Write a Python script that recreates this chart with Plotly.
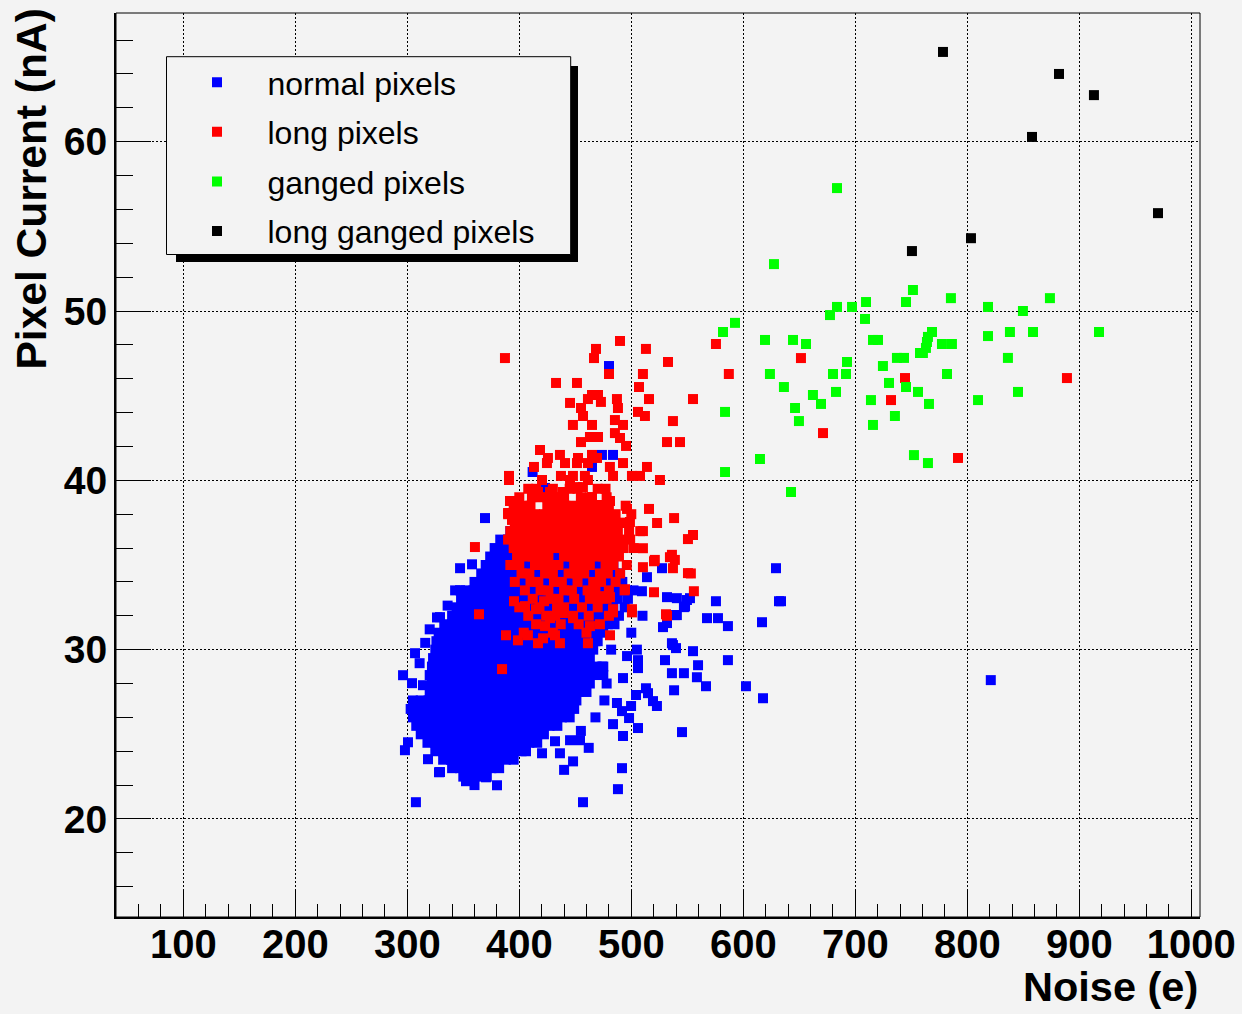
import plotly.graph_objects as go

# ---------------- data ----------------
black_x = [778.3, 881.9, 913.1, 857.8, 970.3, 750.6, 803.3]
black_y = [65.3, 64.0, 62.75, 60.28, 55.78, 53.54, 54.3]

green_x = [683.7, 627.4, 751.5, 785.4, 873.8, 745.3, 709.6, 683.7, 697.1, 818.5,
           849.7, 677.4, 708.7, 592.6, 581.9, 838.1, 858.7, 917.6, 768.5, 764.9,
           818.5, 619.4, 644.4, 715.8, 720.3, 764.0, 656.0, 777.4, 786.3, 763.1,
           757.8, 760.4, 737.2, 743.5, 836.3, 692.6, 724.7, 623.8, 680.1, 691.7,
           781.9, 636.3, 730.1, 745.3, 756.0, 662.2, 682.8, 845.3, 669.4, 646.2,
           714.0, 765.8, 809.6, 649.7, 735.4, 715.8, 583.7, 614.9, 752.4, 764.9,
           583.7, 642.6]
green_y = [57.26, 52.77, 51.24, 50.76, 50.76, 50.53, 50.53, 50.24, 50.24, 50.24,
           50.0, 49.76, 49.53, 49.3, 48.76, 48.76, 48.76, 48.76, 48.76, 48.47,
           48.52, 48.29, 48.29, 48.29, 48.29, 48.17, 48.05, 48.05, 48.05, 47.82,
           47.52, 47.52, 47.23, 47.23, 47.23, 46.99, 46.75, 46.28, 46.28, 46.28,
           46.28, 45.51, 45.75, 45.51, 45.22, 45.04, 45.22, 45.22, 44.51, 44.27,
           44.74, 44.51, 44.74, 43.5, 43.8, 43.27, 44.04, 41.26, 41.49, 41.02,
           40.49, 39.31]

# long pixels: scattered points
red_x = [387.2, 489.9, 468.5, 466.7, 513.1, 532.8, 480.1, 510.4, 506.9, 432.8,
         451.5, 464.9, 470.3, 461.3, 472.9, 487.2, 488.1, 515.8, 555.1, 445.3,
         455.1, 456.9, 506.0, 512.2, 485.4, 492.6, 464.9, 447.9, 537.2, 485.4,
         489.9, 463.1, 470.3, 455.1, 531.9, 543.5, 495.3, 418.5, 425.6, 436.3,
         440.8, 452.4, 451.5, 464.9, 469.4, 461.3, 424.7, 413.1, 480.9, 492.6,
         514.0, 483.7, 390.8, 390.8, 420.3, 437.2, 447.9, 458.6, 461.3, 445.3,
         500.6, 507.8, 525.6, 416.7, 411.3, 464.9, 481.0, 473.8, 391.7, 496.2,
         515.8, 390.0, 402.4, 409.5, 393.5, 402.4, 494.4, 523.0, 538.2, 510.4,
         555.1, 550.6, 360.4, 427.4, 433.6, 439.0, 451.5, 456.8, 471.2, 399.7,
         498.8, 395.3, 405.1, 414.9, 422.1, 433.7, 439.0, 448.0, 463.1, 472.1,
         481.0, 483.7, 500.6, 494.4, 520.3, 531.0, 364.0, 388.1, 398.8, 407.7,
         416.7, 421.2, 431.9, 436.3, 461.3, 481.0, 384.6, 423.0, 427.4, 510.4,
         534.5, 537.2, 520.3, 510.4, 550.6, 521.0, 536.3, 538.9, 553.2, 555.9,
         500.6, 483.7, 531.9, 575.6, 587.1, 651.5, 744.4, 731.9, 671.2, 791.7,
         889.0]
red_y = [47.22, 48.23, 47.76, 47.22, 47.76, 46.99, 46.28, 46.28, 45.51, 45.75,
         45.75, 45.04, 45.04, 44.8, 44.63, 44.8, 44.27, 44.8, 44.8, 44.57,
         44.27, 43.8, 44.04, 43.8, 43.56, 43.27, 43.27, 43.27, 43.5, 42.79,
         42.5, 42.56, 42.56, 42.26, 42.26, 42.26, 42.03, 41.79, 41.32, 41.5,
         41.02, 41.32, 41.02, 41.5, 41.32, 41.02, 41.02, 40.79, 40.79, 41.02,
         40.79, 40.26, 40.26, 40.02, 40.02, 40.26, 40.26, 40.26, 40.02, 40.02,
         40.26, 40.26, 40.02, 39.31, 39.01, 39.01, 38.78, 38.54, 38.78, 38.31,
         38.31, 38.07, 38.31, 38.31, 37.66, 37.48, 37.48, 37.48, 37.77, 37.0,
         36.77, 36.53, 36.06, 39.31, 39.01, 39.31, 39.6, 39.6, 38.54, 37.77,
         37.54, 32.86, 32.57, 32.39, 32.86, 32.45, 32.16, 31.86, 31.39, 33.16,
         33.1, 32.39, 32.39, 33.57, 33.39, 32.09, 32.09, 30.85, 30.55, 30.85,
         30.38, 30.67, 30.85, 30.38, 30.38, 30.85, 28.85, 31.39, 31.86, 35.99,
         35.46, 34.81, 35.22, 34.87, 34.52, 35.3, 35.6, 35.3, 34.5, 33.45,
         32.2, 32.2, 32.0, 48.05, 46.28, 47.22, 46.04, 44.74, 42.79, 41.32,
         46.04]

# long pixels: dense core, read row by row (current value of the row, noise values in it)
red_core_y = [39.5, 39.0, 38.5, 38.0, 37.5, 37.0, 36.5, 36.0, 35.5, 35.0,
              34.5, 34.0, 33.5, 33.0, 32.5, 32.0, 31.5, 31.0]
red_core_x = [
    [408, 415, 430, 445, 452, 470, 477],
    [400, 418, 425, 440, 455, 463, 478],
    [395, 403, 410, 425, 433, 441, 449, 456, 464, 472, 480, 495],
    [390, 398, 406, 414, 422, 430, 438, 446, 454, 462, 470, 478, 486, 500],
    [396, 404, 412, 420, 428, 436, 444, 452, 460, 468, 476, 484, 492],
    [392, 400, 408, 416, 424, 432, 440, 448, 456, 464, 472, 480, 488, 498, 508],
    [390, 398, 406, 414, 421, 428, 435, 442, 449, 456, 463, 470, 477, 484, 491, 499],
    [395, 402, 409, 416, 423, 430, 437, 444, 451, 458, 465, 472, 479, 486, 493, 502],
    [398, 405, 412, 419, 426, 440, 447, 454, 461, 468, 475, 482, 489],
    [392, 400, 414, 421, 428, 435, 449, 456, 463, 477, 484, 496],
    [402, 409, 423, 430, 444, 451, 458, 472, 479, 490],
    [396, 410, 417, 431, 438, 452, 466, 473, 486],
    [405, 419, 426, 440, 447, 461, 468, 480, 494],
    [412, 428, 435, 449, 463, 470, 478],
    [400, 418, 440, 456, 470],
    [408, 424, 432, 448, 462, 480],
    [415, 437, 453, 472],
    [404, 430, 460],
]

# normal pixels: scattered points around the cloud
blue_x = [480.1, 473.8, 483.7, 464.9, 411.9, 422.9, 369.4, 473.8, 347.1, 357.8,
          347.1, 306.9, 296.2, 304.2, 314.0, 305.1, 300.6, 297.9, 318.5, 328.3,
          352.4, 307.7, 491.7, 488.1, 456.9, 380.1, 370.3, 575.6, 567.6, 577.4,
          586.3, 616.7, 631.9, 536.3, 539.9, 555.1, 559.6, 586.3, 530.1, 536.3,
          547.0, 558.6, 566.7, 538.2, 602.4, 617.6, 513.1, 519.4, 522.9, 545.3,
          506.0, 492.6, 498.0, 499.8, 504.2, 506.0, 506.0, 496.2, 492.6, 487.2,
          491.7, 483.7, 454.2, 445.3, 436.3, 420.3, 431.9, 629.2, 633.7, 552.4,
          547.0, 539.0, 531.9, 528.3, 531.9, 527.4, 514.0, 509.5, 514.9, 821.0,
          549.7, 540.7, 540.7, 548.0, 537.2, 389.0, 382.7, 329.2, 342.7, 329.2,
          326.5, 474.0, 478.0, 470.0, 482.0, 476.0, 468.0, 500.0, 505.0, 510.0,
          502.0, 316.0, 311.0, 320.0, 336.0, 455.0, 462.0, 448.0, 440.0, 360.0]
blue_y = [46.75, 41.5, 41.5, 40.79, 40.49, 39.55, 37.77, 38.25, 34.81, 35.04,
          33.51, 29.79, 28.49, 28.02, 27.9, 26.72, 24.53, 24.06, 23.53, 22.76,
          22.23, 20.99, 23.0, 21.76, 20.99, 21.99, 22.46, 32.86, 31.86, 31.86,
          31.39, 31.62, 32.86, 30.38, 30.09, 29.91, 29.08, 29.38, 29.38, 28.61,
          28.61, 28.37, 27.84, 27.6, 27.84, 27.13, 27.72, 26.96, 26.67, 25.13,
          25.37, 24.9, 25.96, 26.67, 27.32, 29.38, 28.91, 29.62, 28.32, 26.85,
          26.37, 25.6, 24.65, 24.65, 23.88, 23.88, 24.59, 34.81, 32.86, 33.04,
          32.51, 32.04, 31.57, 31.33, 33.1, 34.81, 34.28, 33.45, 27.43, 28.2,
          32.93, 32.04, 33.04, 32.55, 30.27, 35.99, 35.7, 31.92, 33.5, 22.77,
          31.9, 29.0, 28.0, 30.5, 30.0, 27.0, 26.0, 31.0, 30.0, 32.0,
          33.5, 30.4, 29.2, 31.2, 32.6, 25.2, 24.2, 23.4, 22.9, 22.0]

# normal pixels: dense core, read row by row
blue_core_y = [37.0, 36.5, 36.0, 35.5, 35.0, 34.5, 34.0, 33.5, 33.0, 32.5,
               32.0, 31.5, 31.0, 30.5, 30.0, 29.5, 29.0, 28.5, 28.0, 27.5,
               27.0, 26.5, 26.0, 25.5, 25.0, 24.5, 24.0, 23.5, 23.0, 22.5]
blue_core_x = [
    [392, 399, 406, 413, 420, 428],
    [383, 390, 397, 404, 411, 418, 425, 432, 439, 446],
    [378, 385, 392, 399, 406, 413, 420, 427, 434, 441, 448, 455, 462, 465],
    [374, 381, 388, 395, 402, 409, 416, 423, 430, 437, 444, 451, 458, 465, 472, 480],
    [370, 377, 384, 391, 398, 405, 412, 419, 426, 433, 440, 447, 454, 461, 468, 475, 484],
    [366, 373, 380, 387, 394, 401, 408, 415, 422, 429, 436, 443, 450, 457, 464, 471, 478, 485, 490],
    [360, 367, 374, 381, 388, 395, 402, 409, 416, 423, 430, 437, 444, 451, 458, 465, 472, 479, 486, 492],
    [352, 359, 366, 373, 380, 387, 394, 401, 408, 415, 422, 429, 436, 443, 450, 457, 464, 471, 478, 485, 492, 495],
    [348, 355, 362, 369, 376, 383, 390, 397, 404, 411, 418, 425, 432, 439, 446, 453, 460, 467, 474, 481, 488, 497],
    [344, 351, 358, 365, 372, 379, 386, 393, 400, 407, 414, 421, 428, 435, 442, 449, 456, 463, 470, 477, 484, 494],
    [340, 347, 354, 361, 368, 375, 382, 389, 396, 403, 410, 417, 424, 431, 438, 445, 452, 459, 466, 473, 480, 489],
    [333, 340, 347, 354, 361, 368, 375, 382, 389, 396, 403, 410, 417, 424, 431, 438, 445, 452, 459, 466, 473, 479, 485],
    [328, 335, 342, 349, 356, 363, 370, 377, 384, 391, 398, 405, 412, 419, 426, 433, 440, 447, 454, 461, 468, 475],
    [326, 333, 340, 347, 354, 361, 368, 375, 382, 389, 396, 403, 410, 417, 424, 431, 438, 445, 452, 459, 468],
    [325, 332, 339, 346, 353, 360, 367, 374, 381, 388, 395, 402, 409, 416, 423, 430, 437, 444, 451, 458, 466],
    [323, 330, 337, 344, 351, 358, 365, 372, 379, 386, 393, 400, 407, 414, 421, 428, 435, 442, 449, 456, 463],
    [322, 329, 336, 343, 350, 357, 364, 371, 378, 385, 392, 399, 406, 413, 420, 427, 434, 441, 448, 455, 462, 469, 475],
    [320, 327, 334, 341, 348, 355, 362, 369, 376, 383, 390, 397, 404, 411, 418, 425, 432, 439, 446, 453, 460, 467, 475],
    [322, 329, 336, 343, 350, 357, 364, 371, 378, 385, 392, 399, 406, 413, 420, 427, 434, 441, 448, 455, 463],
    [320, 327, 334, 341, 348, 355, 362, 369, 376, 383, 390, 397, 404, 411, 418, 425, 432, 439, 446, 453, 460],
    [305, 312, 319, 326, 333, 340, 347, 354, 361, 368, 375, 382, 389, 396, 403, 410, 417, 424, 431, 438, 445, 451],
    [303, 310, 317, 324, 331, 338, 345, 352, 359, 366, 373, 380, 387, 394, 401, 408, 415, 422, 429, 436, 443, 449],
    [305, 312, 319, 326, 333, 340, 347, 354, 361, 368, 375, 382, 389, 396, 403, 410, 417, 424, 431, 438, 445],
    [308, 315, 322, 329, 336, 343, 350, 357, 364, 371, 378, 385, 392, 399, 406, 413, 420, 427, 434],
    [312, 319, 326, 333, 340, 347, 354, 361, 368, 375, 382, 389, 396, 403, 410, 416, 422],
    [318, 325, 332, 339, 346, 353, 360, 367, 374, 381, 388, 395, 402, 409, 416],
    [325, 332, 339, 346, 353, 360, 367, 374, 381, 388, 395, 402, 406],
    [332, 339, 346, 353, 360, 367, 374, 381, 388, 395],
    [340, 347, 354, 361, 368, 375, 382],
    [350, 357, 364, 371],
]

series_names = ["normal pixels", "long pixels", "ganged pixels", "long ganged pixels"]
x_ticks = [100, 200, 300, 400, 500, 600, 700, 800, 900, 1000]
y_ticks = [20, 30, 40, 50, 60]


def expand(rows_y, rows_x):
    xs, ys = [], []
    for yv, row in zip(rows_y, rows_x):
        for xv in row:
            xs.append(xv)
            ys.append(yv)
    return xs, ys


bcx, bcy = expand(blue_core_y, blue_core_x)
rcx, rcy = expand(red_core_y, red_core_x)

# ---------------- figure ----------------
W, H = 1242, 1014
ML, MR, MT, MB = 116, 42, 13, 97
PW, PH = W - ML - MR, H - MT - MB


def px(xp):
    return (xp - ML) / PW


def py(yp):
    return (H - MB - yp) / PH


BG = "#f3f3f3"
MS = 10

fig = go.Figure()
series = [
    (series_names[0], bcx + blue_x, bcy + blue_y, "#0000ff"),
    (series_names[1], rcx + red_x, rcy + red_y, "#ff0000"),
    (series_names[2], green_x, green_y, "#00ff00"),
    (series_names[3], black_x, black_y, "#000000"),
]
for i, (name, xs, ys, col) in enumerate(series):
    fig.add_trace(go.Scatter(
        x=xs, y=ys, mode="markers", name=name, legendgroup="g%d" % i,
        marker=dict(symbol="square", size=MS, color=col, line=dict(width=0)),
        hoverinfo="skip",
    ))

tickfont = dict(family="Liberation Sans, Arial, sans-serif", size=40, color="black", weight="bold")

fig.update_xaxes(
    range=[39.9, 1007.8], tickmode="array", tickvals=x_ticks, ticktext=[str(v) for v in x_ticks],
    ticks="inside", ticklen=27, tickwidth=1, tickcolor="black",
    showgrid=True, gridcolor="black", gridwidth=1, griddash="2px,2px",
    zeroline=False, showline=True, linecolor="black", linewidth=2, automargin=False,
    tickfont=tickfont, ticklabelstandoff=-9,
    minor=dict(dtick=20, tick0=0, ticks="inside", ticklen=13, tickwidth=1, tickcolor="black", showgrid=False),
)
fig.update_yaxes(
    range=[14.21, 67.6], tickmode="array", tickvals=y_ticks, ticktext=[str(v) for v in y_ticks],
    ticks="inside", ticklen=35, tickwidth=1, tickcolor="black",
    showgrid=True, gridcolor="black", gridwidth=1, griddash="2px,2px",
    zeroline=False, showline=True, linecolor="black", linewidth=2, automargin=False,
    tickfont=dict(tickfont, size=39), ticklabelstandoff=-1,
    minor=dict(dtick=2, tick0=0, ticks="inside", ticklen=17, tickwidth=1, tickcolor="black", showgrid=False),
)

shapes = [
    # frame (thin top / right border)
    dict(type="rect", xref="paper", yref="paper", x0=0, x1=1, y0=0, y1=1,
         line=dict(color="black", width=1), fillcolor="rgba(0,0,0,0)", layer="above"),
    # legend shadow
    dict(type="rect", xref="paper", yref="paper", x0=px(176), x1=px(578), y0=py(262), y1=py(66),
         line=dict(width=0), fillcolor="black", layer="above"),
    # legend box
    dict(type="rect", xref="paper", yref="paper", x0=px(166.5), x1=px(570.7), y0=py(254.5), y1=py(56.7),
         line=dict(color="black", width=1), fillcolor=BG, layer="above"),
]

annotations = [
    dict(text="Noise (e)", xref="paper", yref="paper", x=1, y=py(986), xanchor="right", yanchor="middle",
         showarrow=False,
         font=dict(family="Liberation Sans, Arial, sans-serif", size=41.5, color="black", weight="bold")),
    dict(text="Pixel Current (nA)", xref="paper", yref="paper", x=px(31), y=py(7), xanchor="center",
         yanchor="top", textangle=-90, showarrow=False,
         font=dict(family="Liberation Sans, Arial, sans-serif", size=42.5, color="black", weight="bold")),
]

fig.update_layout(
    width=W, height=H, margin=dict(l=ML, r=MR, t=MT, b=MB, pad=0, autoexpand=False),
    paper_bgcolor=BG, plot_bgcolor=BG,
    showlegend=True,
    legend=dict(x=px(166.5), y=py(54.9), xanchor="left", yanchor="top",
                bgcolor="rgba(0,0,0,0)", borderwidth=0, itemwidth=91, tracegroupgap=5,
                font=dict(family="Liberation Sans, Arial, sans-serif", size=32, color="black"),
                itemclick=False, itemdoubleclick=False),
    shapes=shapes, annotations=annotations,
)

fig.write_html("out.html", include_plotlyjs=True, config={"displayModeBar": False})
